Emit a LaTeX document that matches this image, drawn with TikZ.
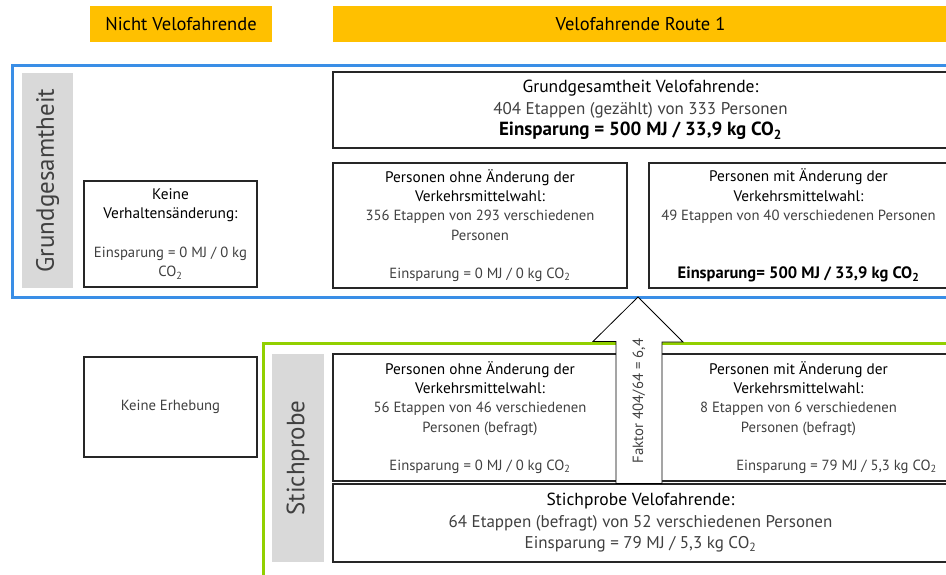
\documentclass[tikz,border=0pt]{standalone}
\usepackage{fontspec}
\setmainfont{PT Sans}
\usetikzlibrary{positioning}
\definecolor{orangehead}{RGB}{255,192,0}
\definecolor{framegreen}{RGB}{146,208,0}
\definecolor{frameblue}{RGB}{58,142,230}
\definecolor{labelgray}{RGB}{217,217,217}
\definecolor{bodygray}{RGB}{64,64,64}

\begin{document}
\begin{tikzpicture}[x=1pt,y=-1pt,
  every node/.style={inner sep=0pt,font=\fontsize{14.7}{19.3}\selectfont},
  head/.style={fill=orangehead,minimum height=36pt,font=\fontsize{18.5}{20}\selectfont},
  side/.style={fill=labelgray,rotate=90,text=bodygray,font=\fontsize{25}{30}\selectfont},
  box/.style={draw=black!85,line width=1.1pt,fill=white,align=center,text=bodygray},
  bigbox/.style={box,font=\fontsize{17}{21.5}\selectfont}]
\useasboundingbox (0,0) rectangle (946,574);
\clip (0,0) rectangle (946,574);

% column heads
\node[head,minimum width=182pt] (nicht) at (181,24) {Nicht Velofahrende};
\node[head,minimum width=615pt] (velo) at (640.5,24) {Velofahrende Route 1};

% frames
\draw[framegreen,line width=3pt] (263,620) -- (263,343) -- (990,343);
\draw[frameblue,line width=3pt] (12,65) rectangle (990,297);

% side labels
\node[side,minimum width=215pt,minimum height=51pt] (grund) at (47.5,180.5) {Grundgesamtheit};
\node[side,minimum width=208pt,minimum height=52pt] (stich) at (298,458) {Stichprobe};

% Grundgesamtheit
\node[bigbox,minimum width=615pt,minimum height=76pt] (gesamt) at (640.5,110)
  {\textcolor{black}{\fontsize{17.5}{21.5}\selectfont Grundgesamtheit Velofahrende:}\\
   404 Etappen (gezählt) von 333 Personen\\
   \textcolor{black}{\fontsize{19}{21.5}\selectfont\bfseries Einsparung = 500 MJ / 33,9 kg CO\textsubscript{2}}};
\node[box,minimum width=173pt,minimum height=106pt] (keineVh) at (170.5,234)
  {\textcolor{black}{\fontsize{15.3}{19.3}\selectfont Keine}\\
   \textcolor{black}{\fontsize{15.3}{19.3}\selectfont Verhaltensänderung:}\\[19.3pt]
   Einsparung = 0 MJ / 0 kg\\
   CO\textsubscript{2}};
\node[box,minimum width=294pt,minimum height=125pt] (gOhne) at (480,225.5)
  {\textcolor{black}{\fontsize{15.3}{19.3}\selectfont Personen ohne Änderung der}\\
   \textcolor{black}{\fontsize{15.3}{19.3}\selectfont Verkehrsmittelwahl:}\\
   356 Etappen von 293 verschiedenen\\
   Personen\\[19.3pt]
   Einsparung = 0 MJ / 0 kg CO\textsubscript{2}};
\node[box,minimum width=299pt,minimum height=125pt] (gMit) at (798.5,225.5)
  {\textcolor{black}{\fontsize{15.3}{19.3}\selectfont Personen mit Änderung der}\\
   \textcolor{black}{\fontsize{15.3}{19.3}\selectfont Verkehrsmittelwahl:}\\
   49 Etappen von 40 verschiedenen Personen\\[38.6pt]
   \textcolor{black}{\fontsize{16.5}{19.3}\selectfont\bfseries Einsparung= 500 MJ / 33,9 kg CO\textsubscript{2}}};

% Stichprobe
\node[box,minimum width=173pt,minimum height=100pt] (keineEr) at (170.5,407) {Keine Erhebung};
\node[box,minimum width=294pt,minimum height=127pt] (sOhne) at (480,417.5)
  {\textcolor{black}{\fontsize{15.3}{19.3}\selectfont Personen ohne Änderung der}\\
   \textcolor{black}{\fontsize{15.3}{19.3}\selectfont Verkehrsmittelwahl:}\\
   56 Etappen von 46 verschiedenen\\
   Personen (befragt)\\[19.3pt]
   Einsparung = 0 MJ / 0 kg CO\textsubscript{2}};
\node[box,minimum width=299pt,minimum height=127pt] (sMit) at (798.5,417.5)
  {\textcolor{black}{\fontsize{15.3}{19.3}\selectfont Personen mit Änderung der}\\
   \textcolor{black}{\fontsize{15.3}{19.3}\selectfont Verkehrsmittelwahl:}\\
   8 Etappen von 6 verschiedenen\\
   Personen (befragt)\\[19.3pt]
   \hspace*{76pt}Einsparung = 79 MJ / 5,3 kg CO\textsubscript{2}};
\node[bigbox,minimum width=615pt,minimum height=78pt] (stichVelo) at (640.5,523)
  {\textcolor{black}{\fontsize{17.5}{21.5}\selectfont Stichprobe Velofahrende:}\\
   64 Etappen (befragt) von 52 verschiedenen Personen\\
   Einsparung = 79 MJ / 5,3 kg CO\textsubscript{2}};

% hochrechnung
\coordinate (tip) at (638,297);
\coordinate (foot) at (stichVelo.north -| tip);
\draw[fill=white,line width=0.8pt] (tip) -- ++(45,45) -- ++(-21,0) -- (foot -| 662,0) -- (foot -| 616,0)
  -- ++(0,-142) -- ++(-23,0) -- cycle;
\node[rotate=90,text=bodygray,font=\fontsize{14.8}{16}\selectfont] (faktor) at (639,401) {Faktor 404/64 = 6,4};
\end{tikzpicture}
\end{document}
